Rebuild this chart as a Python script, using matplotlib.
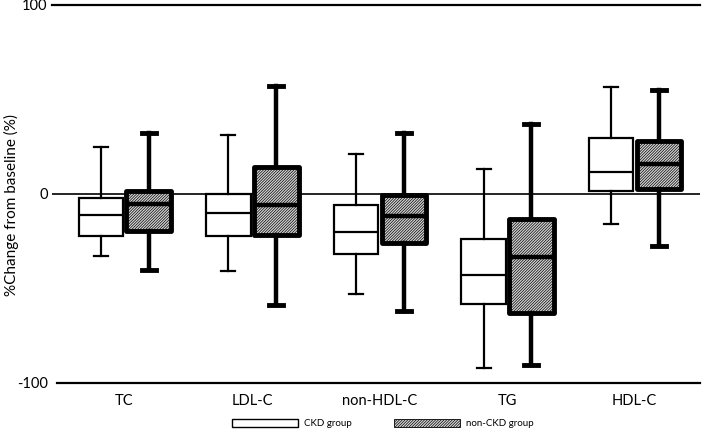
import numpy as np
import matplotlib
matplotlib.use("Agg")
import matplotlib.pyplot as plt
from matplotlib.patches import Patch

plt.rcParams['font.family'] = ['Lato', 'DejaVu Sans']
plt.rcParams['hatch.color'] = '#222222'
plt.rcParams['hatch.linewidth'] = 0.5

categories = ["TC", "LDL-C", "non-HDL-C", "TG", "HDL-C"]

# CKD group (white boxes)
ckd_whislo = [-33, -41, -53, -92, -16]
ckd_q1 = [-22, -22, -32, -58, 1.5]
ckd_med = [-11, -10, -20, -43, 11.5]
ckd_q3 = [-2, 0, -6, -24, 29.5]
ckd_whishi = [25, 31, 21, 13, 56.5]

# non-CKD group (hatched boxes)
non_whislo = [-40, -59, -62, -90.5, -27.5]
non_q1 = [-19.5, -21.5, -26, -63, 2.5]
non_med = [-5.5, -6, -11.5, -33.5, 16]
non_q3 = [1.5, 14.5, -0.5, -13, 28]
non_whishi = [32, 57, 32.5, 37, 55]

def make_stats(lo, q1, med, q3, hi):
    return [dict(whislo=a, q1=b, med=c, q3=d, whishi=e, fliers=[])
            for a, b, c, d, e in zip(lo, q1, med, q3, hi)]

fig = plt.figure(figsize=(7.09, 4.36), dpi=100)
ax = fig.add_axes([0.073, 0.1216, 0.914, 0.867])

pos = np.arange(1, len(categories) + 1)
w = 0.35
hatch = '/' * 12
hatch_bg = '#d6d6d6'

ax.bxp(make_stats(ckd_whislo, ckd_q1, ckd_med, ckd_q3, ckd_whishi),
       positions=pos - 0.185, widths=w, patch_artist=True, showfliers=False,
       boxprops=dict(facecolor='white', edgecolor='black', linewidth=1.6),
       medianprops=dict(color='black', linewidth=1.6),
       whiskerprops=dict(color='black', linewidth=1.6),
       capprops=dict(color='black', linewidth=1.6), capwidths=0.11)

ax.bxp(make_stats(non_whislo, non_q1, non_med, non_q3, non_whishi),
       positions=pos + 0.19, widths=w, patch_artist=True, showfliers=False,
       boxprops=dict(facecolor=hatch_bg, edgecolor='black', linewidth=3.5,
                     hatch=hatch, joinstyle='round'),
       medianprops=dict(color='black', linewidth=3.2),
       whiskerprops=dict(color='black', linewidth=3.2),
       capprops=dict(color='black', linewidth=3.5), capwidths=0.11)

ax.axhline(0, color='black', linewidth=1.2, zorder=0)
ax.axhline(100, color='black', linewidth=1.6, clip_on=False)
ax.plot([0.47, 5.51], [-100, -100], color='black', linewidth=1.6, clip_on=False)

ax.set_xlim(0.43, 5.51)
ax.set_ylim(-100, 100)
for s in ax.spines.values():
    s.set_visible(False)

ax.set_yticks([-100, 0, 100])
ax.set_yticklabels(["-100", "0", "100"], fontsize=10.5)
ax.tick_params(axis='y', length=0, pad=3)
ax.set_xticks(pos)
ax.set_xticklabels(categories, fontsize=10.5)
ax.tick_params(axis='x', length=0, pad=8)
ax.set_ylabel("%Change from baseline (%)", fontsize=11)
ax.yaxis.set_label_coords(-0.05, 0.47)

handles = [Patch(facecolor='white', edgecolor='black', linewidth=1.0),
           Patch(facecolor=hatch_bg, edgecolor='black', linewidth=0.6,
                 hatch=hatch)]
fig.legend(handles, ["CKD group", "non-CKD group"], loc='center',
           bbox_to_anchor=(0.54, 0.028), ncol=2, frameon=False, fontsize=7,
           handlelength=6.8, handleheight=0.8, handletextpad=0.6,
           columnspacing=4.3)

fig.savefig("out.png", dpi=100)
